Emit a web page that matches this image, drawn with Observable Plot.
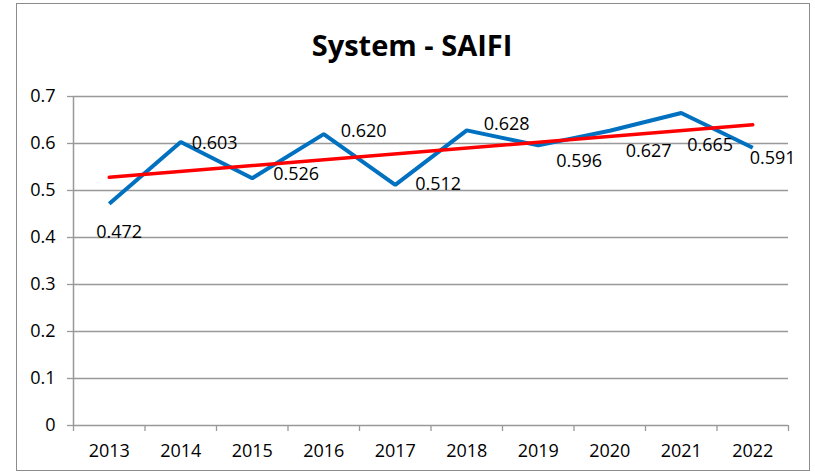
<!DOCTYPE html>
<html>
<head>
<meta charset="utf-8">
<script src="https://cdn.jsdelivr.net/npm/d3@7"></script>
<script src="https://cdn.jsdelivr.net/npm/@observablehq/plot@0.6"></script>
<style>
  html, body { margin: 0; padding: 0; background: #fff; }
  #wrap { position: relative; width: 815px; height: 474px; overflow: hidden; font-family: "Open Sans", sans-serif; }
  #frame { position: absolute; left: 16px; top: 3px; width: 792px; height: 466px; border: 1.5px solid #8c8c8c; box-sizing: content-box; }
  #title { position: absolute; left: 0; width: 824px; top: 25px; text-align: center; font-size: 29px; font-weight: bold; color: #000; line-height: 40px; }
  #chart { position: absolute; left: 0; top: 0; }
</style>
</head>
<body>
<div id="wrap">
  <div id="frame"></div>
  <div id="title">System - SAIFI</div>
  <div id="chart"></div>
</div>
<script>
const years = [2013, 2014, 2015, 2016, 2017, 2018, 2019, 2020, 2021, 2022];
const saifi = [0.472, 0.603, 0.526, 0.620, 0.512, 0.628, 0.596, 0.627, 0.665, 0.591];
const labels = ["0.472", "0.603", "0.526", "0.620", "0.512", "0.628", "0.596", "0.627", "0.665", "0.591"];
const yTicks = [0, 0.1, 0.2, 0.3, 0.4, 0.5, 0.6, 0.7];
const yTickLabels = ["0", "0.1", "0.2", "0.3", "0.4", "0.5", "0.6", "0.7"];

const data = years.map((y, i) => ({year: y, value: saifi[i], label: labels[i]}));
const boundaries = d3.range(years.length + 1).map(i => years[0] - 0.5 + i);

// label offsets (style only), as placed in the original
const labelOffsets = [[-13, 29], [11, 1], [21, -4], [17, -3], [20, -1], [17, -6], [18, 16], [16, 20], [6, 32], [-3, 11]];

const gray = "#999999";
const font = "Open Sans, sans-serif";
const fs = 18;

const plot = Plot.plot({
  width: 815,
  height: 474,
  marginLeft: 73,
  marginRight: 27,
  marginTop: 96,
  marginBottom: 49,
  style: {fontFamily: font, fontSize: fs + "px", color: "#000", background: "transparent", overflow: "visible"},
  x: {type: "linear", domain: [years[0] - 0.5, years[years.length - 1] + 0.5]},
  y: {type: "linear", domain: [0, 0.7]},
  marks: [
    Plot.ruleY(yTicks, {stroke: gray, strokeWidth: 1.3}),
    Plot.ruleX([years[0] - 0.5], {stroke: gray, strokeWidth: 1.5}),
    Plot.axisY({ticks: yTicks, tickFormat: (d) => yTickLabels[yTicks.indexOf(d)], tickSize: 6, tickPadding: 12, stroke: gray, strokeWidth: 1.3, fill: "#000", label: null, fontSize: fs}),
    Plot.axisX({ticks: years, tickFormat: d => String(d), tickSize: 0, tickPadding: 19, label: null, fill: "#000", fontSize: fs}),
    Plot.axisX({ticks: boundaries, tickFormat: () => "", tickSize: 6, stroke: gray, strokeWidth: 1.3, label: null}),
    Plot.line(data, {x: "year", y: "value", stroke: "#0070C0", strokeWidth: 4, strokeLinejoin: "miter", strokeLinecap: "butt"}),
    Plot.linearRegressionY(data, {x: "year", y: "value", stroke: "#FF0000", strokeWidth: 3.5, ci: 0}),
    ...data.map((d, i) => Plot.text([d], {x: "year", y: "value", text: "label", textAnchor: "start", dx: labelOffsets[i][0], dy: labelOffsets[i][1], fontSize: fs, fill: "#000"}))
  ]
});
document.getElementById("chart").appendChild(plot);
</script>
</body>
</html>
